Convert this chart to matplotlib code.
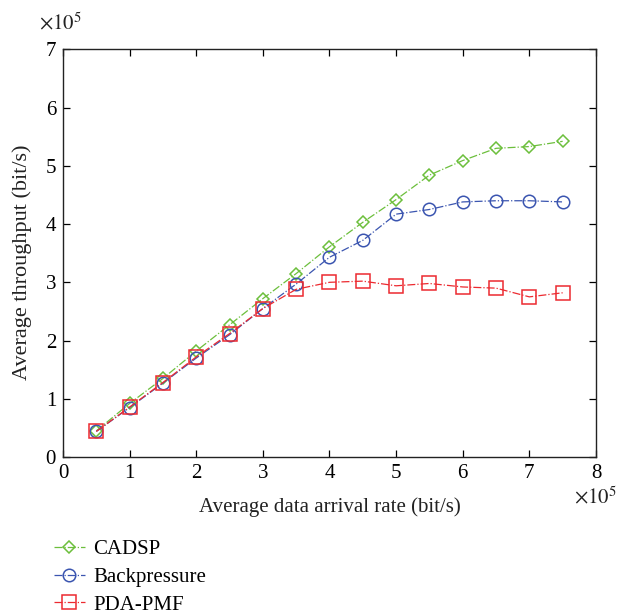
import matplotlib
matplotlib.use("Agg")
import matplotlib.pyplot as plt

plt.rcParams['font.family'] = ['Liberation Serif', 'DejaVu Serif']
plt.rcParams['mathtext.fontset'] = 'stix'

# values in units of 1e5 bit/s
arrival = [0.5, 1.0, 1.5, 2.0, 2.5, 3.0, 3.5, 4.0, 4.5, 5.0, 5.5, 6.0, 6.5, 7.0, 7.5]
cadsp = [0.45, 0.92, 1.35, 1.82, 2.27, 2.72, 3.15, 3.61, 4.03, 4.42, 4.84, 5.09, 5.30, 5.33, 5.42]
backpressure = [0.44, 0.85, 1.27, 1.70, 2.10, 2.55, 2.97, 3.43, 3.72, 4.17, 4.25, 4.38, 4.40, 4.40, 4.38]
pdapmf = [0.44, 0.86, 1.28, 1.72, 2.12, 2.55, 2.88, 3.00, 3.02, 2.94, 2.98, 2.92, 2.90, 2.75, 2.82]

labels = ['CADSP', 'Backpressure', 'PDA-PMF']
colors = ['#6cbf3c', '#3b55b0', '#ec2a30']
markers = ['D', 'o', 's']
msizes = [6.5, 9, 10]

fig = plt.figure(figsize=(6.32, 6.16), dpi=100)
ax = fig.add_axes([0.0997, 0.258, 0.8433, 0.662])

series = [cadsp, backpressure, pdapmf]
handles = []
for ys, lab, c, m, ms in zip(series, labels, colors, markers, msizes):
    ln, = ax.plot(arrival, ys, linestyle='-.', color=c, marker=m, markersize=ms,
                  markerfacecolor='none', markeredgecolor=c, markeredgewidth=1.1, linewidth=0.9,
                  label=lab)
    handles.append(ln)

ax.set_xlim(0, 8)
ax.set_ylim(0, 7)
ax.set_xticks(range(0, 9))
ax.set_yticks(range(0, 8))
ax.tick_params(direction='in', top=True, right=True, labelsize=15, length=5, width=0.9, pad=5)
for s in ax.spines.values():
    s.set_linewidth(1.0)
    s.set_color('#222222')

ax.set_xlabel('Average data arrival rate (bit/s)', fontsize=15, labelpad=10, color='#222222')
ax.set_ylabel('Average throughput (bit/s)', fontsize=16, color='#222222')
ax.yaxis.set_label_coords(-0.058, 0.478)

fig.text(0.062, 0.962, r'$\times 10^5$', fontsize=15, ha='left', va='center', color='#222222')
fig.text(0.908, 0.193, r'$\times 10^5$', fontsize=15, ha='left', va='center', color='#222222')

fig.legend(handles=handles, labels=labels, loc='upper left', bbox_to_anchor=(0.072, 0.138),
           frameon=False, fontsize=15, handlelength=1.5, labelspacing=0.4, handletextpad=0.4,
           borderaxespad=0)

fig.savefig('out.png', dpi=100)
